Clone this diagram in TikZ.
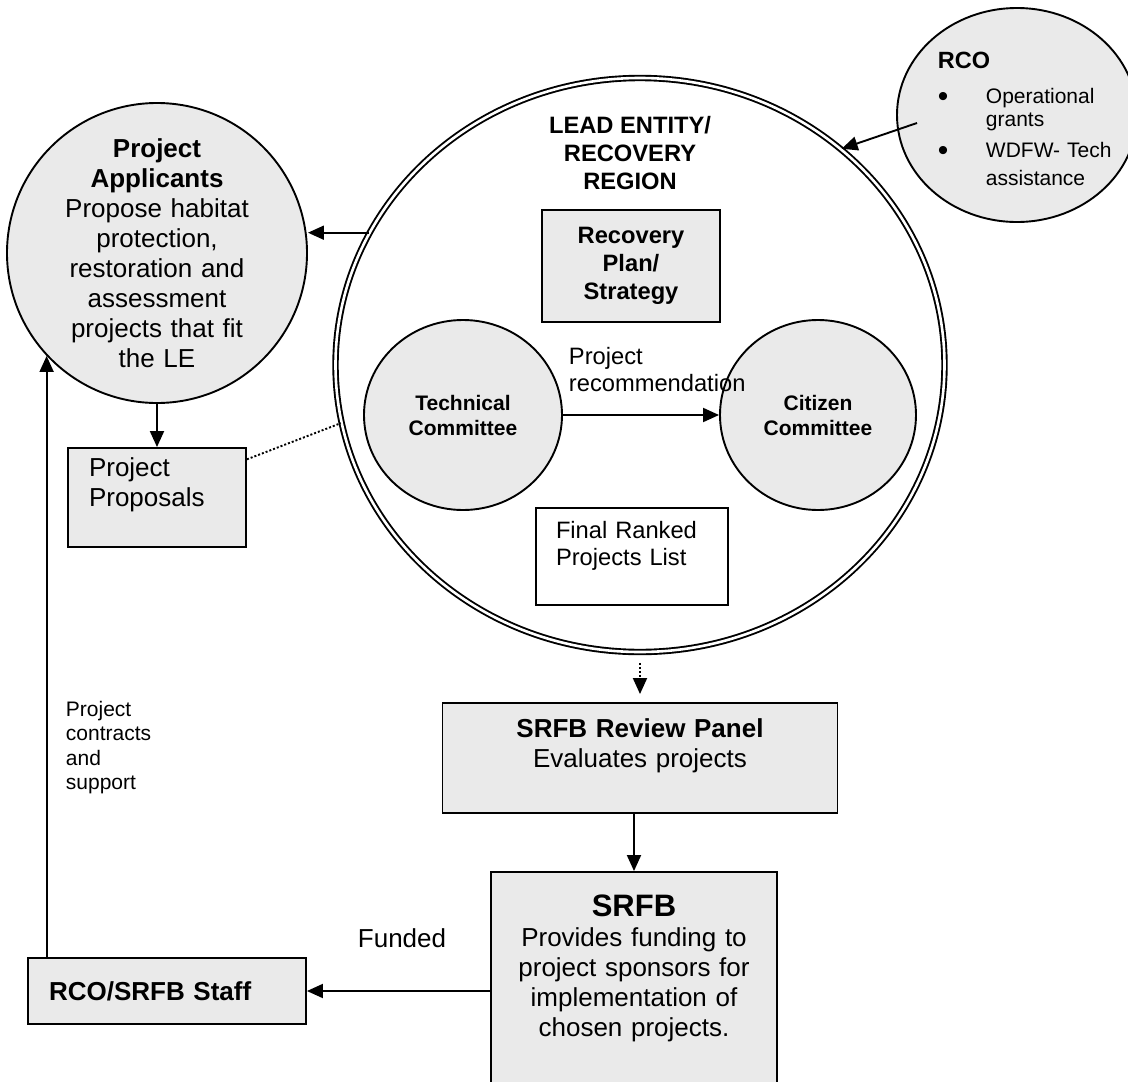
\documentclass[tikz,border=0pt]{standalone}
\usepackage{fontspec}
\setmainfont{Liberation Sans}
\usetikzlibrary{arrows.meta,shapes.geometric}
\definecolor{panelgray}{RGB}{234,234,234}

\begin{document}
\begin{tikzpicture}[x=1pt,y=-1pt,line width=1.9pt,
  arr/.style={-{Triangle[length=16pt,width=14pt]}},
  dotline/.style={dash pattern=on 2pt off 2pt},
  graybox/.style={draw,fill=panelgray,rectangle,inner xsep=21pt,inner ysep=0pt},
  bubble/.style={draw,fill=panelgray,inner sep=0pt},
  bigtext/.style={font=\fontsize{26}{30}\selectfont},
  bigbold/.style={font=\fontsize{26}{30}\selectfont\bfseries},
  midtext/.style={font=\fontsize{23.7}{27}\selectfont},
  midbold/.style={font=\fontsize{23.7}{28}\selectfont\bfseries},
  smalltext/.style={font=\fontsize{21}{24.5}\selectfont},
  smallbold/.style={font=\fontsize{21}{25}\selectfont\bfseries}]
  \useasboundingbox (0,0) rectangle (1128,1082);
  \clip (0,0) rectangle (1128,1082);

  \node[draw,ellipse,minimum width=609pt,minimum height=574pt,line width=1.9pt,
    double=white,double distance=2.6pt] (leadentity) at (640,365) {};
  \node[midbold,align=center] (letitle) at (630,153) {LEAD ENTITY/\\RECOVERY\\REGION};
  \node[graybox,minimum width=178pt,minimum height=112pt,align=center,midbold] (plan)
    at (631,266) {Recovery\\Plan/\\Strategy};
  \node[bubble,ellipse,minimum width=198pt,minimum height=190pt,align=center,smallbold]
    (technical) at (463,415) {Technical\\Committee};
  \node[bubble,ellipse,minimum width=196pt,minimum height=190pt,align=center,smallbold]
    (citizen) at (818,415) {Citizen\\Committee};
  \draw[arr] (technical) -- (citizen);
  \node[midtext,align=left,anchor=west,inner sep=0pt] (reclabel) at (568,370)
    {Project\\recommendation};
  \node[draw,fill=white,rectangle,minimum width=192pt,minimum height=97pt,inner xsep=20pt,
    text width=152pt,align=left,midtext] (ranked) at (632,556.5) {Final Ranked\\Projects List\\\mbox{}};

  \node[bubble,circle,minimum size=300pt,text width=190pt,align=center,bigtext] (applicants)
    at (157,253) {\textbf{Project}\\\textbf{Applicants}\\Propose habitat\\protection,\\restoration and\\assessment\\projects that fit\\the LE};
  \node[graybox,minimum height=99pt,text width=136pt,align=left,bigtext] (proposals)
    at (157,497.5) {Project\\Proposals\\\mbox{}};
  \draw[arr] (leadentity.154) -- (leadentity.154 -| applicants.east);
  \draw[arr] (applicants) -- (proposals);
  \draw[dotline] (proposals.23) -- (leadentity.191.6);

  \node[bubble,ellipse,minimum width=240pt,minimum height=214pt] (rco) at (1017,115) {};
  \node[smalltext,text width=190pt,align=left,anchor=north west,inner sep=0pt] (rcotext)
    at (937,51) {{\fontsize{23.5}{24}\selectfont\bfseries RCO}\\[11pt]
    \makebox[48pt][l]{\raisebox{-2.5pt}{\fontsize{30}{24}\selectfont\textbullet}}Operational\\[-2pt]
    \hspace*{48pt}grants\\[7pt]
    \makebox[48pt][l]{\raisebox{-2.5pt}{\fontsize{30}{24}\selectfont\textbullet}}WDFW- Tech\\[3pt]
    \hspace*{48pt}assistance};
  \coordinate (rcotail) at (917,123);
  \draw[arr] (rcotail) -- (leadentity.47.7);

  \node[graybox,minimum width=395pt,minimum height=110pt,text width=353pt,align=center,bigtext]
    (review) at (640,758) {\textbf{SRFB Review Panel}\\Evaluates projects\\\mbox{}};
  \draw[arr,dotline] ([yshift=-10pt]leadentity.south) -- ([yshift=8pt]review.north);
  \node[graybox,minimum width=286pt,minimum height=218pt,text width=244pt,align=center,bigtext]
    (srfb) at (634,981) {{\fontsize{31}{35}\selectfont\bfseries SRFB}\\Provides funding to\\project sponsors for\\implementation of\\chosen projects.\\\mbox{}};
  \draw[arr] (srfb.north |- review.south) -- (srfb.north);

  \node[graybox,minimum width=278pt,minimum height=66pt,text width=236pt,align=left,bigbold]
    (staff) at (167,991) {RCO/SRFB Staff};
  \draw[arr] (srfb.west |- staff.east) -- (staff.east);
  \node[bigtext] (funded) at (402,938) {Funded};
  \draw[arr] (applicants.223.4 |- staff.north) -- (applicants.223.4);
  \node[smalltext,align=left,anchor=west,inner sep=0pt] (contracts) at (65,747.5)
    {Project\\contracts\\and\\support};

\end{tikzpicture}
\end{document}
